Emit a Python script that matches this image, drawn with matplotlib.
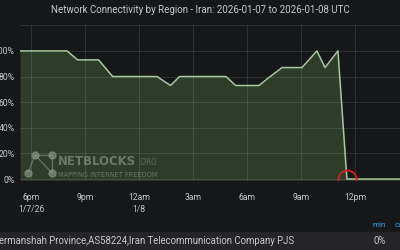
import matplotlib
matplotlib.use("Agg")
import matplotlib.pyplot as plt
import pandas as pd
from matplotlib import font_manager

# datos
tiempos = ["2026-01-07 17:23", "2026-01-07 20:00", "2026-01-07 20:35",
           "2026-01-07 21:45", "2026-01-07 22:32", "2026-01-08 01:00",
           "2026-01-08 01:45", "2026-01-08 02:15", "2026-01-08 04:50",
           "2026-01-08 05:22", "2026-01-08 06:40", "2026-01-08 07:17",
           "2026-01-08 07:57", "2026-01-08 09:03", "2026-01-08 09:53",
           "2026-01-08 10:20", "2026-01-08 11:03", "2026-01-08 11:33",
           "2026-01-08 14:30"]
conectividad = [100, 100, 93, 93, 80, 80, 73, 80, 80, 73, 73, 80, 87, 87,
                100, 87, 100, 0, 0]

ticks_x = ["2026-01-07 18:00", "2026-01-07 21:00", "2026-01-08 00:00",
           "2026-01-08 03:00", "2026-01-08 06:00", "2026-01-08 09:00",
           "2026-01-08 12:00"]
etiquetas_x = ["6pm\n1/7/26", "9pm", "12am\n1/8", "3am", "6am", "9am", "12pm"]
ticks_y = [0, 20, 40, 60, 80, 100]

titulo = "Network Connectivity by Region - Iran: 2026-01-07 to 2026-01-08 UTC"
serie = "Kermanshah Province,AS58224,Iran Telecommunication Company PJS"
corte = "2026-01-08 11:33"

fondo = "#161719"
texto = "#c8c9ca"
gris_logo = "#8e9c8a"

plt.rcParams["font.family"] = ["Roboto", "DejaVu Sans"]

# fuente estrecha para el logo, si existe
prop = font_manager.FontProperties(family="DejaVu Sans", stretch="condensed",
                                   weight="bold")
if "Condensed" in font_manager.findfont(prop):
    logo_kw = dict(family="DejaVu Sans", stretch="condensed")
else:
    logo_kw = dict(family="Roboto")

x = pd.to_datetime(tiempos)

fig = plt.figure(figsize=(4, 2.5), dpi=100, facecolor=fondo)
ax = fig.add_axes([20 / 400, 1 - 180.3 / 250, 380 / 400, 155 / 250])
ax.set_facecolor(fondo)

ax.fill_between(x, conectividad, -1, color="#2d3d2a", lw=0)
ax.plot(x, conectividad, color="#a9c8a0", lw=1.1)
ax.plot(pd.to_datetime([corte]), [0], "o", ms=13, mfc="none",
        mec="#c8201e", mew=1.4)

ax.set_xlim(pd.Timestamp("2026-01-07 17:23"), pd.Timestamp("2026-01-08 14:30"))
ax.set_ylim(-1, 120)
ax.set_xticks(pd.to_datetime(ticks_x))
ax.set_xticklabels(etiquetas_x, linespacing=1.4)
ax.set_yticks(ticks_y)
ax.set_yticklabels([f"{v}%" for v in ticks_y])
ax.tick_params(colors=texto, labelsize=6.2, length=0)
ax.tick_params(axis="x", pad=9)
ax.tick_params(axis="y", pad=4)
ax.grid(True, color="#ffffff", alpha=0.12, lw=0.6)
for s in ax.spines.values():
    s.set_visible(False)
ax.axhline(120, color="#ffffff", alpha=0.12, lw=0.6)

# titulo
fig.text(0.5, 1 - 10 / 250, titulo, ha="center", va="center",
         color=texto, fontsize=7.0)

# marca de agua de netblocks
nodos = [(35, 155), (52, 155), (28, 173), (52, 173)]
aristas = [(0, 1), (0, 2), (0, 3), (1, 3)]
for a, b in aristas:
    fig.lines.append(plt.Line2D([nodos[a][0] / 400, nodos[b][0] / 400],
                                [1 - nodos[a][1] / 250, 1 - nodos[b][1] / 250],
                                transform=fig.transFigure, color=gris_logo,
                                alpha=0.55, lw=1.0))
for nx, ny in nodos:
    fig.lines.append(plt.Line2D([nx / 400], [1 - ny / 250], marker="o", ms=5,
                                transform=fig.transFigure, color=gris_logo,
                                alpha=0.6, lw=0))

t1 = fig.text(58 / 400, 1 - 165 / 250, "NETBLOCKS", weight="bold",
              fontsize=12, color=gris_logo, alpha=0.65, **logo_kw)
t2 = fig.text(138 / 400, 1 - 165 / 250, ".ORG", fontsize=7,
              color=gris_logo, alpha=0.5, **logo_kw)
t3 = fig.text(58 / 400, 1 - 177 / 250, "MAPPING INTERNET FREEDOM",
              fontsize=7, color=gris_logo, alpha=0.6, **logo_kw)

# ajustar el ancho de los textos del logo al de la imagen
renderer = fig.canvas.get_renderer()
for t, ancho in [(t1, 78), (t2, 19), (t3, 100)]:
    w = t.get_window_extent(renderer).width
    t.set_fontsize(t.get_fontsize() * ancho / w)

# leyenda de tabla
fig.text(379 / 400, 1 - 225 / 250, "min", ha="center", va="center",
         color="#33a2e5", fontsize=5.8)
fig.text(395 / 400, 1 - 225 / 250, "cur", ha="left", va="center",
         color="#33a2e5", fontsize=5.8)
fig.patches.append(plt.Rectangle((0, 0), 1, 18 / 250, transform=fig.transFigure,
                                 color="#252527", zorder=0))
fig.text(-7 / 400, 1 - 241 / 250, serie, ha="left", va="center",
         color=texto, fontsize=6.9)
fig.text(380 / 400, 1 - 241 / 250, "0%", ha="center", va="center",
         color=texto, fontsize=6.9)

fig.savefig("out.png", dpi=100, facecolor=fondo)
